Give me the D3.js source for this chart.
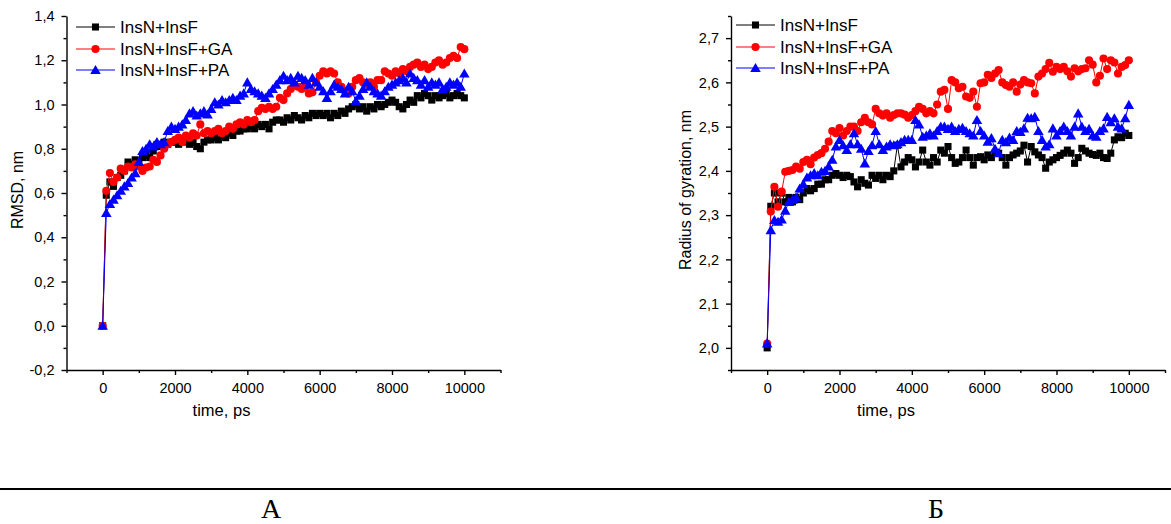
<!DOCTYPE html>
<html>
<head>
<meta charset="utf-8">
<script src="https://cdn.jsdelivr.net/npm/d3@7"></script>
<style>
	body { margin: 0; background: #fff; }
	text { font-family: "Liberation Sans", Arial, sans-serif; fill: #000; }
</style>
</head>
<body>
<div id="visual"></div>
<script>
// sampling grid, ps
var timePs = d3.range(0, 10001, 100);

// RMSD, nm
var rmsdInsF = [0, 0.59, 0.65, 0.63, 0.67, 0.68, 0.70, 0.74, 0.73, 0.75,
	0.74, 0.76, 0.77, 0.76, 0.79, 0.82, 0.81, 0.83, 0.82, 0.83,
	0.83, 0.82, 0.84, 0.83, 0.82, 0.83, 0.81, 0.80, 0.83, 0.84,
	0.84, 0.85, 0.84, 0.86, 0.85, 0.87, 0.86, 0.88, 0.88, 0.89,
	0.89, 0.90, 0.89, 0.91, 0.90, 0.91, 0.89, 0.92, 0.93, 0.93,
	0.92, 0.94, 0.93, 0.95, 0.94, 0.93, 0.95, 0.94, 0.96, 0.95,
	0.96, 0.95, 0.96, 0.94, 0.96, 0.95, 0.97, 0.96, 0.98, 0.99,
	1.00, 0.98, 0.99, 0.97, 0.99, 0.98, 1.00, 0.99, 1.00, 1.01,
	1.02, 1.01, 0.99, 0.98, 1.00, 1.02, 1.01, 1.04, 1.03, 1.05,
	1.04, 1.02, 1.04, 1.03, 1.04, 1.05, 1.03, 1.04, 1.05, 1.04, 1.03];
var rmsdGA = [0, 0.61, 0.69, 0.65, 0.67, 0.71, 0.70, 0.72, 0.715, 0.73,
	0.72, 0.70, 0.715, 0.72, 0.75, 0.74, 0.77, 0.80, 0.82, 0.83,
	0.84, 0.85, 0.83, 0.86, 0.85, 0.87, 0.86, 0.91, 0.87, 0.88,
	0.87, 0.88, 0.89, 0.87, 0.88, 0.90, 0.89, 0.91, 0.92, 0.91,
	0.93, 0.92, 0.93, 0.97, 0.985, 0.98, 0.99, 0.98, 0.99, 1.03,
	1.02, 1.05, 1.07, 1.09, 1.08, 1.07, 1.08, 1.05, 1.055, 1.10,
	1.13, 1.15, 1.14, 1.15, 1.14, 1.10, 1.08, 1.06, 1.05, 1.08,
	1.11, 1.12, 1.10, 1.09, 1.10, 1.08, 1.11, 1.11, 1.15, 1.14,
	1.13, 1.15, 1.14, 1.16, 1.15, 1.17, 1.18, 1.19, 1.17, 1.18,
	1.16, 1.17, 1.19, 1.20, 1.18, 1.19, 1.21, 1.22, 1.21, 1.26, 1.25];
var rmsdPA = [0, 0.51, 0.55, 0.57, 0.59, 0.61, 0.63, 0.645, 0.67, 0.69,
	0.74, 0.79, 0.80, 0.82, 0.81, 0.83, 0.82, 0.83, 0.88, 0.90,
	0.89, 0.90, 0.91, 0.93, 0.96, 0.97, 0.95, 0.96, 0.97, 0.955,
	0.98, 1.01, 1.00, 1.02, 1.01, 1.02, 1.03, 1.02, 1.04, 1.05,
	1.10, 1.07, 1.06, 1.05, 1.04, 1.03, 1.05, 1.07, 1.09, 1.11,
	1.13, 1.11, 1.12, 1.10, 1.13, 1.12, 1.11, 1.09, 1.12, 1.10,
	1.08, 1.06, 1.03, 1.06, 1.09, 1.08, 1.07, 1.05, 1.08, 1.06,
	1.015, 1.04, 1.07, 1.10, 1.08, 1.06, 1.05, 1.04, 1.06, 1.08,
	1.09, 1.10, 1.11, 1.12, 1.10, 1.14, 1.12, 1.11, 1.09, 1.11,
	1.08, 1.10, 1.09, 1.10, 1.07, 1.08, 1.10, 1.09, 1.10, 1.08, 1.14];

// Radius of gyration, nm
var rgInsF = [2.00, 2.32, 2.35, 2.33, 2.35, 2.33, 2.34, 2.33, 2.34, 2.335,
	2.35, 2.36, 2.355, 2.36, 2.37, 2.37, 2.38, 2.38, 2.39, 2.394,
	2.39, 2.385, 2.39, 2.387, 2.375, 2.364, 2.38, 2.372, 2.368, 2.39,
	2.383, 2.39, 2.38, 2.39, 2.387, 2.40, 2.458, 2.409, 2.42, 2.43,
	2.425, 2.409, 2.42, 2.447, 2.42, 2.413, 2.43, 2.42, 2.447, 2.44,
	2.455, 2.43, 2.417, 2.42, 2.43, 2.447, 2.43, 2.413, 2.43, 2.432,
	2.425, 2.436, 2.43, 2.44, 2.44, 2.43, 2.413, 2.43, 2.436, 2.44,
	2.445, 2.458, 2.42, 2.455, 2.443, 2.436, 2.43, 2.406, 2.42, 2.425,
	2.43, 2.435, 2.44, 2.447, 2.44, 2.417, 2.43, 2.451, 2.445, 2.44,
	2.437, 2.435, 2.44, 2.43, 2.428, 2.44, 2.47, 2.477, 2.475, 2.485, 2.48];
var rgGA = [2.01, 2.308, 2.364, 2.319, 2.353, 2.398, 2.40, 2.402, 2.41, 2.405,
	2.42, 2.425, 2.415, 2.43, 2.436, 2.44, 2.45, 2.466, 2.49, 2.485,
	2.497, 2.48, 2.49, 2.50, 2.50, 2.49, 2.51, 2.52, 2.51, 2.505,
	2.54, 2.53, 2.525, 2.53, 2.52, 2.526, 2.53, 2.53, 2.527, 2.52,
	2.526, 2.535, 2.545, 2.54, 2.53, 2.535, 2.53, 2.55, 2.579, 2.583,
	2.54, 2.605, 2.60, 2.587, 2.59, 2.568, 2.565, 2.579, 2.545, 2.598,
	2.60, 2.617, 2.61, 2.62, 2.628, 2.60, 2.594, 2.59, 2.60, 2.579,
	2.595, 2.605, 2.60, 2.598, 2.575, 2.613, 2.62, 2.63, 2.644, 2.624,
	2.635, 2.63, 2.635, 2.625, 2.613, 2.632, 2.625, 2.63, 2.632, 2.65,
	2.64, 2.60, 2.615, 2.654, 2.63, 2.65, 2.645, 2.62, 2.635, 2.639, 2.65];
var rgPA = [2.01, 2.266, 2.289, 2.285, 2.29, 2.31, 2.33, 2.335, 2.34, 2.36,
	2.37, 2.385, 2.39, 2.395, 2.39, 2.398, 2.40, 2.41, 2.425, 2.455,
	2.47, 2.458, 2.447, 2.46, 2.485, 2.46, 2.45, 2.417, 2.445, 2.458,
	2.49, 2.46, 2.447, 2.455, 2.46, 2.458, 2.46, 2.465, 2.47, 2.47,
	2.47, 2.515, 2.505, 2.477, 2.48, 2.485, 2.48, 2.49, 2.50, 2.50,
	2.495, 2.50, 2.49, 2.495, 2.497, 2.49, 2.485, 2.48, 2.515, 2.49,
	2.48, 2.466, 2.474, 2.45, 2.44, 2.47, 2.465, 2.475, 2.47, 2.49,
	2.488, 2.496, 2.52, 2.519, 2.522, 2.49, 2.47, 2.455, 2.46, 2.496,
	2.48, 2.49, 2.50, 2.49, 2.48, 2.50, 2.53, 2.50, 2.49, 2.495,
	2.48, 2.477, 2.49, 2.496, 2.522, 2.51, 2.519, 2.50, 2.496, 2.519, 2.549];

var seriesNames = ["InsN+InsF", "InsN+InsF+GA", "InsN+InsF+PA"];
var seriesColors = ["#000000", "#ff0000", "#0000ff"];
var seriesSymbols = [d3.symbolSquare, d3.symbolCircle, d3.symbolTriangle];
var symbolSizes = [50, 52, 48];

var xMajorTicks = [0, 2000, 4000, 6000, 8000, 10000];
var xMinorTicks = [-1000, 1000, 3000, 5000, 7000, 9000, 11000];
var rmsdTicks = [-0.2, 0, 0.2, 0.4, 0.6, 0.8, 1.0, 1.2, 1.4];
var rmsdMinor = [-0.1, 0.1, 0.3, 0.5, 0.7, 0.9, 1.1, 1.3];
var rgTicks = [2.0, 2.1, 2.2, 2.3, 2.4, 2.5, 2.6, 2.7];
var rgMinor = [1.95, 2.05, 2.15, 2.25, 2.35, 2.45, 2.55, 2.65, 2.75];
var panelLetters = ["А", "Б"];

var W = 1171, H = 524;
var svg = d3.select("#visual")
	.append("svg")
	.attr("width", W)
	.attr("height", H)
	.style("display", "block");

svg.append("rect").attr("width", W).attr("height", H).attr("fill", "#fff");

function commaFmt(d) {
	return d.toFixed(1).replace(".", ",");
}

function drawPanel(p) {
	var x = d3.scaleLinear()
		.domain([-1000, 11000])
		.range([p.left, p.left + 434]);
	var y = d3.scaleLinear()
		.domain(p.yDomain)
		.range([370, 16]);

	var g = svg.append("g");

	// x axis, major + minor
	g.append("g")
		.attr("transform", "translate(0,370)")
		.call(d3.axisBottom(x).tickValues(xMinorTicks).tickSize(3).tickFormat(""))
		.select(".domain").remove();
	g.append("g")
		.attr("transform", "translate(0,370)")
		.call(d3.axisBottom(x).tickValues(xMajorTicks).tickSize(5).tickSizeOuter(0)
			.tickPadding(8).tickFormat(d3.format("d")));

	// y axis, major + minor
	g.append("g")
		.attr("transform", "translate(" + p.left + ",0)")
		.call(d3.axisLeft(y).tickValues(p.yMinor).tickSize(3).tickFormat(""))
		.select(".domain").remove();
	g.append("g")
		.attr("transform", "translate(" + p.left + ",0)")
		.call(d3.axisLeft(y).tickValues(p.yTicks).tickSize(5).tickSizeOuter(0)
			.tickPadding(7).tickFormat(commaFmt));

	g.selectAll(".domain, .tick line")
		.attr("stroke", "#000")
		.attr("stroke-width", 1.4);
	g.selectAll(".tick text")
		.style("font-size", "14.5px")
		.style("font-family", "'Liberation Sans', Arial, sans-serif");

	g.append("text")
		.attr("x", p.left + 155)
		.attr("y", 416)
		.attr("text-anchor", "middle")
		.style("font-size", "16.5px")
		.text("time, ps");
	g.append("text")
		.attr("transform", "translate(" + p.titleX + "," + 190 + ") rotate(-90)")
		.attr("text-anchor", "middle")
		.attr("dy", "0.35em")
		.style("font-size", "16px")
		.text(p.yTitle);

	// series: line then markers, in legend order
	p.series.forEach(function(vals, k) {
		var pts = timePs.map(function(t, i) { return [x(t), y(vals[i])]; });
		g.append("path")
			.attr("d", d3.line()(pts))
			.attr("fill", "none")
			.attr("stroke", seriesColors[k])
			.attr("stroke-width", 1);
		var sym = d3.symbol().type(seriesSymbols[k]).size(symbolSizes[k]);
		g.append("g").selectAll("path")
			.data(pts)
			.enter()
			.append("path")
			.attr("transform", function(d) {
				return "translate(" + d[0] + "," + (d[1] + (k == 2 ? 1 : 0)) + ")";
			})
			.attr("d", sym)
			.attr("fill", seriesColors[k]);
	});

	// legend
	seriesNames.forEach(function(name, k) {
		var ly = p.legendY[k];
		var lx = p.left + p.legendDx;
		g.append("line")
			.attr("x1", lx).attr("x2", lx + 39)
			.attr("y1", ly).attr("y2", ly)
			.attr("stroke", seriesColors[k])
			.attr("stroke-width", 1);
		g.append("path")
			.attr("transform", "translate(" + (lx + 19.5) + "," + (ly + (k == 2 ? 1 : 0)) + ")")
			.attr("d", d3.symbol().type(seriesSymbols[k]).size(symbolSizes[k]))
			.attr("fill", seriesColors[k]);
		g.append("text")
			.attr("x", lx + 44)
			.attr("y", ly)
			.attr("dy", "0.35em")
			.style("font-size", "17px")
			.text(name);
	});
}

drawPanel({
	left: 66.5,
	yDomain: [-0.2, 1.4],
	yTicks: rmsdTicks,
	yMinor: rmsdMinor,
	yTitle: "RMSD, nm",
	titleX: 17,
	legendDx: 9.5,
	legendY: [27, 49, 70],
	series: [rmsdInsF, rmsdGA, rmsdPA]
});
drawPanel({
	left: 731,
	yDomain: [1.95, 2.75],
	yTicks: rgTicks,
	yMinor: rgMinor,
	yTitle: "Radius of gyration, nm",
	titleX: 685,
	legendDx: 5,
	legendY: [25, 47, 68],
	series: [rgInsF, rgGA, rgPA]
});

// separator and panel letters
svg.append("line")
	.attr("x1", 0).attr("x2", W)
	.attr("y1", 489).attr("y2", 489)
	.attr("stroke", "#000")
	.attr("stroke-width", 2);
svg.selectAll(".letter")
	.data(panelLetters)
	.enter()
	.append("text")
	.attr("class", "letter")
	.attr("x", function(d, i) { return i == 0 ? 271 : 936; })
	.attr("y", 518)
	.attr("text-anchor", "middle")
	.style("font-family", "'Liberation Serif', 'Times New Roman', serif")
	.style("font-size", "28px")
	.text(function(d) { return d; });
</script>
</body>
</html>
